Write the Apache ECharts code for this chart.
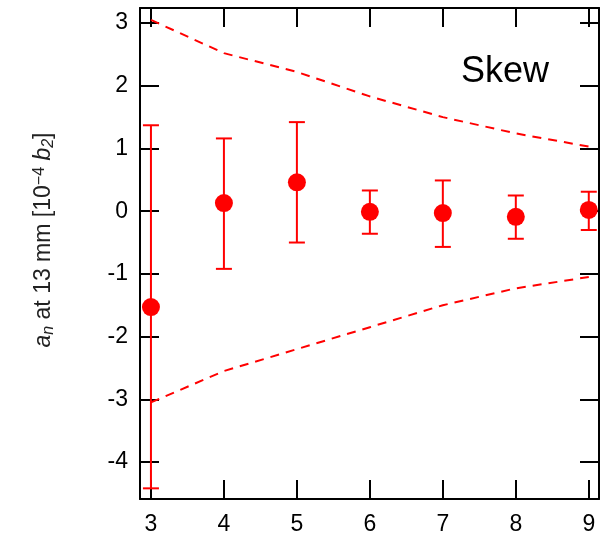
<!DOCTYPE html>
<html><head><meta charset="utf-8">
<script src="https://cdn.jsdelivr.net/npm/echarts@6/dist/echarts.min.js"></script>
<style>html,body{margin:0;padding:0;background:#fff}#c{width:600px;height:540px}</style>
</head><body><div id="c"></div>
<script>
const orders = [3, 4, 5, 6, 7, 8, 9];
const skewMean = [-1.53, 0.13, 0.46, -0.01, -0.03, -0.09, 0.02];
const skewUpper = [1.37, 1.16, 1.42, 0.33, 0.49, 0.25, 0.31];
const skewLower = [-4.42, -0.92, -0.5, -0.36, -0.57, -0.44, -0.3];
const envUpper = [3.05, 2.52, 2.22, 1.83, 1.5, 1.24, 1.03];
const envLower = [-3.05, -2.55, -2.2, -1.85, -1.5, -1.23, -1.05];
const xTicks = [3, 4, 5, 6, 7, 8, 9];
const yTicks = [-4, -3, -2, -1, 0, 1, 2, 3];
const yTitle = '{it|a}{sub|n} at 13 mm [10{sup|−4} {it|b}{sub|2}]';

const chart = echarts.init(document.getElementById('c'));
const red = '#ff0000';
const FF = 'Liberation Sans, Arial, sans-serif';
const axisCommon = {
  axisLine: {show: true, onZero: false, lineStyle: {color: '#000', width: 2}},
  splitLine: {show: false}
};
const tick = (vals) => ({show: true, inside: true, length: 19, customValues: vals, lineStyle: {color: '#000', width: 2}});
chart.setOption({
  animation: false,
  grid: {left: 140, right: 1, top: 8, bottom: 41},
  xAxis: [
    Object.assign({type: 'value', min: 2.85, max: 9.14, position: 'bottom',
      axisTick: tick(xTicks),
      axisLabel: {show: true, customValues: xTicks, color: '#000', fontSize: 23, fontFamily: FF, margin: 14}}, axisCommon),
    Object.assign({type: 'value', min: 2.85, max: 9.14, position: 'top',
      axisTick: tick(xTicks), axisLabel: {show: false}}, axisCommon)
  ],
  yAxis: [
    Object.assign({type: 'value', min: -4.59, max: 3.24, position: 'left',
      axisTick: tick(yTicks),
      axisLabel: {show: true, customValues: yTicks, color: '#000', fontSize: 23, fontFamily: FF, margin: 12}}, axisCommon),
    Object.assign({type: 'value', min: -4.59, max: 3.24, position: 'right',
      axisTick: tick(yTicks), axisLabel: {show: false}}, axisCommon)
  ],
  graphic: [
    {type: 'text', left: 461, top: 54, style: {text: 'Skew', fontSize: 36, fontFamily: FF, fill: '#000'}},
    {type: 'text', x: 44, y: 240, rotation: Math.PI / 2,
      style: {text: yTitle, fontSize: 23, fontFamily: FF, fill: '#222', align: 'center', verticalAlign: 'middle',
        rich: {
          it: {fontStyle: 'italic', fontSize: 23, fontFamily: FF, fill: '#222'},
          sub: {fontStyle: 'italic', fontSize: 16, verticalAlign: 'bottom', padding: [9, 0, 0, 0], fontFamily: FF, fill: '#222'},
          sup: {fontSize: 16, verticalAlign: 'top', padding: [0, 0, 9, 0], fontFamily: FF, fill: '#222'}
        }}}
  ],
  series: [
    {type: 'line', data: orders.map((x, i) => [x, envUpper[i]]), symbol: 'none',
      lineStyle: {color: red, width: 2, type: [9, 7]}},
    {type: 'line', data: orders.map((x, i) => [x, envLower[i]]), symbol: 'none',
      lineStyle: {color: red, width: 2, type: [9, 7]}},
    {type: 'custom', data: orders.map((x, i) => [x, skewLower[i], skewUpper[i]]),
      renderItem: function (params, api) {
        const lo = api.coord([api.value(0), api.value(1)]);
        const hi = api.coord([api.value(0), api.value(2)]);
        const w = 8;
        const st = {stroke: red, lineWidth: 2};
        return {type: 'group', children: [
          {type: 'line', shape: {x1: lo[0], y1: lo[1], x2: hi[0], y2: hi[1]}, style: st},
          {type: 'line', shape: {x1: lo[0] - w, y1: lo[1], x2: lo[0] + w, y2: lo[1]}, style: st},
          {type: 'line', shape: {x1: hi[0] - w, y1: hi[1], x2: hi[0] + w, y2: hi[1]}, style: st}
        ]};
      }, z: 3},
    {type: 'scatter', data: orders.map((x, i) => [x, skewMean[i]]), symbol: 'circle', symbolSize: 18,
      itemStyle: {color: red, opacity: 1}, z: 4}
  ]
});
</script></body></html>
